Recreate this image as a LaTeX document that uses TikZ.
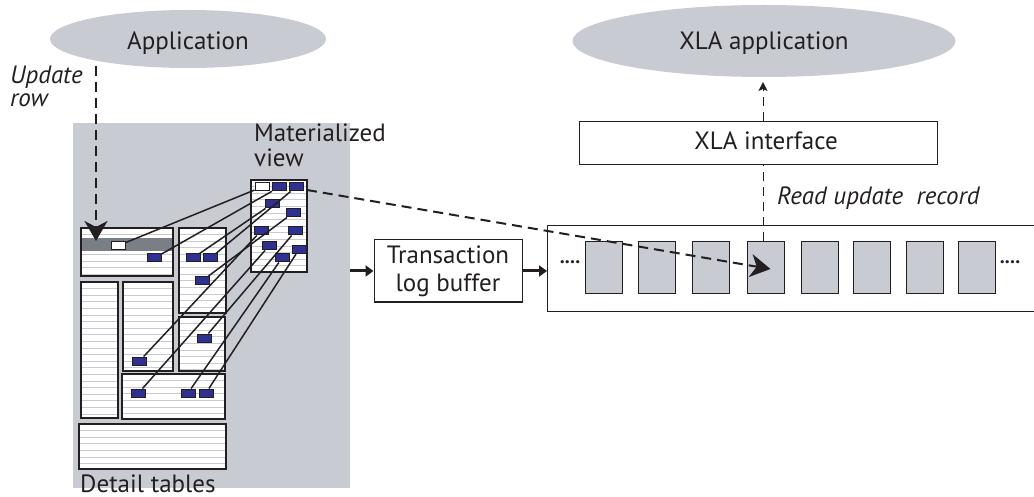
\documentclass[tikz,border=0pt]{standalone}
\usepackage{fontspec}
\setmainfont{PT Sans}
\usetikzlibrary{arrows.meta,shapes.geometric,calc}
\definecolor{paneg}{RGB}{200,203,210}
\definecolor{bandg}{RGB}{122,127,133}
\definecolor{stripeg}{RGB}{200,203,210}
\definecolor{navy}{RGB}{46,49,146}
\definecolor{ink}{RGB}{35,31,32}
\tikzset{
  txt/.style={font=\fontsize{25}{25}\selectfont, text=ink, inner sep=0pt},
  app/.style={ellipse, fill=paneg, inner sep=0pt},
  plainbox/.style={draw=ink, line width=1pt, fill=white, inner sep=0pt, txt},
  dtable/.style={draw=ink, line width=1.2pt, fill=white, inner sep=0pt, outer sep=0pt,
    anchor=north west,
    path picture={
      \foreach \k in {1,...,32}{
        \draw[stripeg, line width=0.8pt]
          ([yshift=-\k*6.6pt]path picture bounding box.north west) --
          ([yshift=-\k*6.6pt]path picture bounding box.north east);
      }}},
  bcell/.style={draw=ink, line width=1pt, fill=navy, minimum width=14pt, minimum height=8pt, inner sep=0pt},
  wcell/.style={bcell, fill=white},
  slot/.style={draw=ink, line width=1pt, fill=paneg, minimum width=37pt, minimum height=52pt, inner sep=0pt},
  link/.style={ink, line width=1.5pt},
  bigdash/.style={ink, line width=2pt, dash pattern=on 10pt off 6pt,
    -{Stealth[length=20pt,width=23pt,inset=6pt]}},
  thindash/.style={ink, line width=1pt, dash pattern=on 9pt off 6pt},
  fatarrow/.style={ink, line width=3pt, -{Triangle[length=8pt,width=11pt]}},
}
\begin{document}
\begin{tikzpicture}[x=1pt,y=-1pt]
\useasboundingbox (0,0) rectangle (1034,497);
\clip (0,0) rectangle (1034,497);

% ---- left side: application and its tables ----
\node[app, minimum width=276pt, minimum height=58pt] (app) at (188,39) {};
\node[txt, anchor=base] (apptext) at (188,50) {Application};

\node[fill=paneg, anchor=north west, minimum width=277pt, minimum height=365pt, inner sep=0pt] (pane) at (73,123) {};

\node[txt, anchor=south west, align=left, font=\fontsize{25}{23}\selectfont\itshape] (updlabel) at (10,107) {Update\\row};
\node[txt, anchor=south west, align=left] (mvlabel) at (254,167) {Materialized\\view};
\node[txt, anchor=base west] (dtl) at (80,492) {Detail tables};

% detail tables
\node[dtable, minimum width=92pt, minimum height=48pt] (ta) at (81,228) {};
\fill[bandg] (82,238) rectangle (172,251);
\node[dtable, minimum width=47pt, minimum height=85pt] (tb) at (179,228) {};
\node[dtable, minimum width=37pt, minimum height=136pt] (tc) at (81,282) {};
\node[dtable, minimum width=50pt, minimum height=89pt] (td) at (123,282) {};
\node[dtable, minimum width=46pt, minimum height=54pt] (te) at (179,317) {};
\node[dtable, minimum width=103pt, minimum height=45pt] (tf) at (122,374) {};
\node[dtable, minimum width=147pt, minimum height=45pt] (tg) at (79,424) {};
% materialized view
\node[dtable, line width=2pt, minimum width=56pt, minimum height=92pt] (mv) at (251,180) {};

% rows inside the detail tables
\node[wcell] (da) at (118.5,245.5) {};
\node[bcell] (db) at (154.5,258) {};
\node[bcell] (dc) at (193,258) {};
\node[bcell] (dd) at (210.5,258) {};
\node[bcell] (de) at (202.5,280.5) {};
\node[bcell] (df) at (204.5,338) {};
\node[bcell] (dg) at (139.5,361) {};
\node[bcell] (dh) at (138.5,393) {};
\node[bcell] (di) at (188,393) {};
\node[bcell] (dj) at (206,393) {};

% rows inside the materialized view
\node[wcell] (ma) at (262,187) {};
\node[bcell] (mb) at (279.5,187) {};
\node[bcell] (mc) at (296,187) {};
\node[bcell] (md) at (272,204) {};
\node[bcell] (me) at (293,213) {};
\node[bcell] (mf) at (261,231) {};
\node[bcell] (mg) at (295.5,231) {};
\node[bcell] (mh) at (269,246) {};
\node[bcell] (mi) at (282,258) {};
\node[bcell] (mj) at (299,249.5) {};

% view rows linked to their source rows
\draw[link] (ma) -- (da);
\draw[link] (mb) -- (db);
\draw[link] (mc) -- (dd);
\draw[link] (md) -- (dc);
\draw[link] (me) -- (de);
\draw[link] (mf) -- (dg);
\draw[link] (mg) -- (df);
\draw[link] (mh) -- (dh);
\draw[link] (mi) -- (di);
\draw[link] (mj) -- (dj);

% update of a row
\coordinate (updtop) at (96,66);
\coordinate (updtip) at (96,241);
\draw[bigdash] (updtop) -- (updtip);

% ---- log buffer ----
\node[plainbox, minimum width=148pt, minimum height=62pt, align=center, font=\fontsize{25}{28}\selectfont] (trans) at (448,271) {Transaction\\log buffer};
\draw[fatarrow] (pane.east |- trans.west) -- (trans.west);

\node[draw=ink, line width=1.2pt, fill=white, anchor=north west, minimum width=500pt, minimum height=86pt, inner sep=0pt] (buf) at (547,225) {};
\draw[fatarrow] (trans.east) -- (buf.west |- trans.east);

\foreach \i/\x in {1/603.5,2/657,3/711,4/765.5,5/819.5,6/871.5,7/924.5,8/977}{
  \node[slot] (s\i) at (\x,268) {};
}
\node[txt, font=\fontsize{20}{20}\selectfont\bfseries] (dotl) at (570,262) {....};
\node[txt, font=\fontsize{20}{20}\selectfont\bfseries] (dotr) at (1010,262) {....};

% ---- XLA side ----
\node[app, minimum width=383pt, minimum height=72pt] (xapp) at (764,41) {};
\node[txt, anchor=base] (xapptext) at (764,50) {XLA application};
\node[draw=ink, line width=1pt, fill=white, minimum width=358pt, minimum height=43pt] (xif) at (758,143.5) {};
\node[txt, anchor=base] (xiftext) at (766,150) {XLA interface};
\node[txt, anchor=base west, font=\fontsize{25}{25}\selectfont\itshape] (rur) at (777,205) {Read update\ \ record};

\draw[thindash] (s4.north -| 763,0) -- (xif.south -| 763,0);
\draw[thindash, -{Stealth[length=9pt,width=9pt,inset=2pt]}] (xif.north -| 763,0) -- (763,82);

% view change travelling to the log
\draw[bigdash] ([yshift=-10pt]mv.north east) -- ([xshift=5pt,yshift=-1pt]s4.center);
\end{tikzpicture}
\end{document}
